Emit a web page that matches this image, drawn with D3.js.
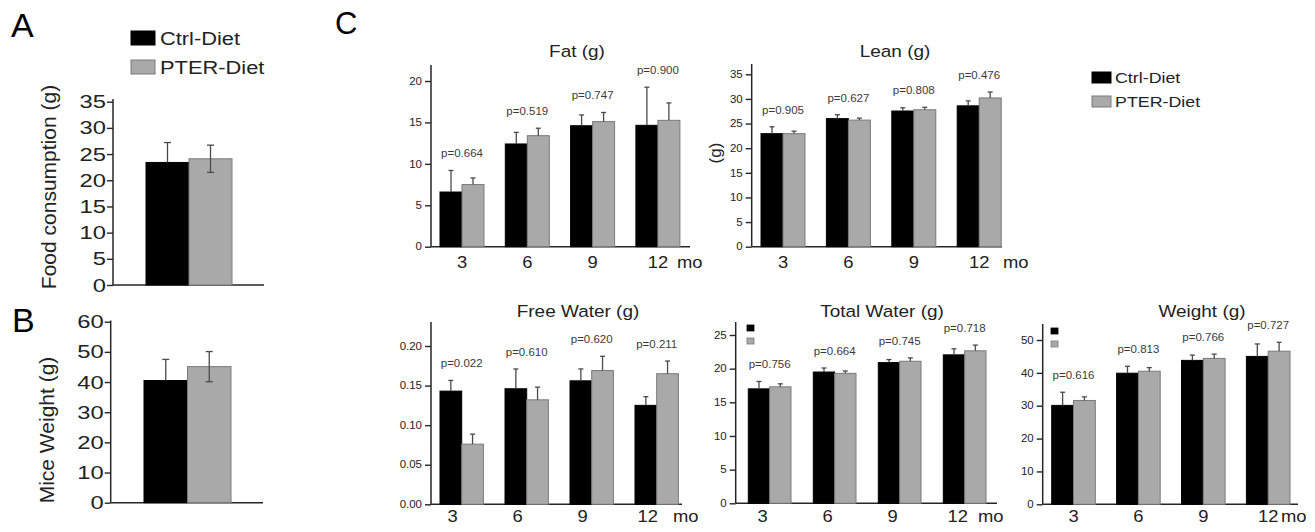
<!DOCTYPE html>
<html><head><meta charset="utf-8">
<script src="https://cdn.jsdelivr.net/npm/d3@7"></script>
<style>body{margin:0;background:#fff}svg{display:block;font-family:"Liberation Sans",Arial,sans-serif}</style>
</head><body><svg id="c" width="1315" height="532"></svg>
<script>
// ---------- DATA ----------
const months = ["3", "6", "9", "12"];
const groups = ["Ctrl-Diet", "PTER-Diet"];

const foodValues = [23.4, 24.1];
const foodErr = [3.8, 2.6];
const foodTicks = [0, 5, 10, 15, 20, 25, 30, 35];

const miceWeightValues = [40.5, 45.1];
const miceWeightErr = [7.0, 5.0];
const miceWeightTicks = [0, 10, 20, 30, 40, 50, 60];

const fatCtrl = [6.6, 12.4, 14.6, 14.65];
const fatCtrlErr = [2.6, 1.4, 1.3, 4.6];
const fatPter = [7.5, 13.4, 15.1, 15.25];
const fatPterErr = [0.8, 0.9, 1.1, 2.1];
const fatP = ["p=0.664", "p=0.519", "p=0.747", "p=0.900"];
const fatTicks = [0, 5, 10, 15, 20];

const leanCtrl = [22.95, 26.0, 27.55, 28.6];
const leanCtrlErr = [1.4, 0.8, 0.65, 1.0];
const leanPter = [22.95, 25.7, 27.8, 30.2];
const leanPterErr = [0.5, 0.4, 0.5, 1.2];
const leanP = ["p=0.905", "p=0.627", "p=0.808", "p=0.476"];
const leanTicks = [0, 5, 10, 15, 20, 25, 30, 35];

const freeCtrl = [0.143, 0.146, 0.156, 0.125];
const freeCtrlErr = [0.0135, 0.025, 0.015, 0.011];
const freePter = [0.076, 0.132, 0.169, 0.165];
const freePterErr = [0.0126, 0.016, 0.018, 0.016];
const freeP = ["p=0.022", "p=0.610", "p=0.620", "p=0.211"];
const freeTicks = [0, 0.05, 0.10, 0.15, 0.20];

const totalCtrl = [17.0, 19.5, 20.9, 22.05];
const totalCtrlErr = [1.1, 0.6, 0.45, 0.9];
const totalPter = [17.3, 19.3, 21.1, 22.65];
const totalPterErr = [0.45, 0.35, 0.5, 0.85];
const totalP = ["p=0.756", "p=0.664", "p=0.745", "p=0.718"];
const totalTicks = [0, 5, 10, 15, 20, 25];

const weightCtrl = [30.1, 39.9, 43.8, 45.0];
const weightCtrlErr = [4.0, 2.1, 1.6, 3.8];
const weightPter = [31.6, 40.5, 44.4, 46.6];
const weightPterErr = [1.1, 1.1, 1.3, 2.7];
const weightP = ["p=0.616", "p=0.813", "p=0.766", "p=0.727"];
const weightTicks = [0, 10, 20, 30, 40, 50];

// ---------- STYLE ----------
const FILL = {"Ctrl-Diet": "#000", "PTER-Diet": "#a9a9a9"};
const EDGE = {"Ctrl-Diet": "#000", "PTER-Diet": "#7a7a7a"};
const AX = "#262626", ERR = "#4a4a4a", TXT = "#222";
const SX = 1.15;

const svg = d3.select("#c");
svg.append("rect").attr("width", 1315).attr("height", 532).attr("fill", "#fff");

function txt(g, x, y, s, size, anchor, sx, fill) {
  return g.append("text")
    .attr("transform", `translate(${x},${y}) scale(${sx == null ? SX : sx},1)`)
    .attr("text-anchor", anchor || "start")
    .attr("font-size", size).attr("fill", fill || TXT).text(s);
}

// vertical error bar from the bar top yMid up to yHi; optional lower half to yLo
function errBar(g, x, yMid, yHi, cap, yLo) {
  g.append("line").attr("x1", x).attr("x2", x).attr("y1", yMid).attr("y2", yHi)
    .attr("stroke", ERR).attr("stroke-width", 1.3);
  g.append("line").attr("x1", x - cap / 2).attr("x2", x + cap / 2)
    .attr("y1", yHi).attr("y2", yHi).attr("stroke", ERR).attr("stroke-width", 1.3);
  if (yLo != null) {
    g.append("line").attr("x1", x).attr("x2", x).attr("y1", yMid).attr("y2", yLo)
      .attr("stroke", ERR).attr("stroke-width", 1.3);
    g.append("line").attr("x1", x - cap / 2).attr("x2", x + cap / 2)
      .attr("y1", yLo).attr("y2", yLo).attr("stroke", ERR).attr("stroke-width", 1.3);
  }
}

function yAxis(g, L, y, ticks, fmt, tickFont, tickSx, pad) {
  const ax = d3.axisLeft(y).tickValues(ticks).tickSize(L.tick).tickPadding(pad).tickFormat(fmt);
  const a = g.append("g").attr("transform", `translate(${L.x0},0)`).call(ax);
  a.select(".domain").remove();
  a.selectAll(".tick line").attr("stroke", AX).attr("stroke-width", 1.4);
  a.selectAll(".tick text").attr("font-size", tickFont).attr("fill", TXT)
    .attr("font-family", '"Liberation Sans",Arial,sans-serif')
    .attr("x", null)
    .attr("transform", `translate(${-(L.tick + pad)},0) scale(${tickSx},1)`);
  g.append("line").attr("x1", L.x0).attr("x2", L.x0).attr("y1", L.yTop).attr("y2", L.y0)
    .attr("stroke", AX).attr("stroke-width", 1.5);
  g.append("line").attr("x1", L.x0).attr("x2", L.xEnd).attr("y1", L.y0).attr("y2", L.y0)
    .attr("stroke", AX).attr("stroke-width", 1.5);
}

// ---------- PANEL C (grouped by month) ----------
function monthPanel(L, ctrl, ctrlErr, pter, pterErr, pvals, ticks, fmt) {
  const g = svg.append("g");
  const y = d3.scaleLinear().domain([0, ticks[ticks.length - 1]]).range([L.y0, L.yTick]);
  const x = d3.scaleBand().domain(months)
    .range([L.first, L.first + 3 * L.step + L.pair])
    .paddingInner((L.step - L.pair) / L.step).paddingOuter(0);
  const xs = d3.scaleBand().domain(groups).range([0, x.bandwidth()]);
  const series = {"Ctrl-Diet": [ctrl, ctrlErr], "PTER-Diet": [pter, pterErr]};

  yAxis(g, L, y, ticks, fmt, 10, SX, 3);

  months.forEach((m, i) => {
    groups.forEach(s => {
      const v = series[s][0][i], e = series[s][1][i];
      const bx = x(m) + xs(s);
      g.append("rect").attr("x", bx).attr("y", y(v)).attr("width", xs.bandwidth())
        .attr("height", y(0) - y(v)).attr("fill", FILL[s]).attr("stroke", EDGE[s]).attr("stroke-width", 1);
      errBar(g, bx + xs.bandwidth() / 2, y(v), y(v + e), 5);
    });
    const top = Math.max(ctrl[i] + ctrlErr[i], pter[i] + pterErr[i]);
    txt(g, x(m) + x.bandwidth() / 2, y(top) - 13, pvals[i], 10, "middle", SX, "#3a3a3a");
  });

  // x axis labels
  const xa = d3.axisBottom(x).tickSize(0).tickPadding(0);
  const a = g.append("g").attr("transform", `translate(${L.lblShift},${L.lblY})`).call(xa);
  a.select(".domain").remove();
  a.selectAll(".tick text").attr("font-size", 16).attr("fill", TXT).attr("dy", null).attr("y", null)
    .attr("font-family", '"Liberation Sans",Arial,sans-serif')
    .attr("transform", `scale(${SX},1)`);
  txt(g, L.moX, L.lblY, "mo", 16, "start");

  txt(g, L.titleX, L.titleY, L.title, 16.5, "middle");
  if (L.ylabel) {
    g.append("text").attr("transform", `translate(${L.ylabel[0]},${L.ylabel[1]}) rotate(-90)`)
      .attr("text-anchor", "middle").attr("font-size", 17).attr("fill", TXT).text("(g)");
  }
  if (L.mini) {
    groups.forEach((s, k) => g.append("rect").attr("x", L.mini[0]).attr("y", L.mini[1] + k * 13)
      .attr("width", 7).attr("height", 6).attr("fill", FILL[s]).attr("stroke", EDGE[s]).attr("stroke-width", 0.8));
  }
}

monthPanel({x0: 431, xEnd: 690, y0: 246.7, yTick: 81, yTop: 65, tick: 6,
  first: 440, step: 65.3, pair: 44, lblY: 268, lblShift: 0, moX: 677,
  title: "Fat (g)", titleX: 577, titleY: 57}, fatCtrl, fatCtrlErr, fatPter, fatPterErr, fatP, fatTicks, d3.format("d"));

monthPanel({x0: 751.7, xEnd: 1002, y0: 246.7, yTick: 74.3, yTop: 64, tick: 6,
  first: 761, step: 65.4, pair: 44, lblY: 268, lblShift: 0, moX: 1003,
  title: "Lean (g)", titleX: 895, titleY: 57, ylabel: [721, 153]},
  leanCtrl, leanCtrlErr, leanPter, leanPterErr, leanP, leanTicks, d3.format("d"));

monthPanel({x0: 431, xEnd: 682, y0: 504.3, yTick: 346, yTop: 322, tick: 6,
  first: 440, step: 65, pair: 43.4, lblY: 522, lblShift: -9, moX: 673,
  title: "Free Water (g)", titleX: 578, titleY: 317},
  freeCtrl, freeCtrlErr, freePter, freePterErr, freeP, freeTicks, d3.format(".2f"));

monthPanel({x0: 735.7, xEnd: 997, y0: 503.3, yTick: 335, yTop: 322, tick: 6,
  first: 748.3, step: 65, pair: 42.7, lblY: 522, lblShift: -7, moX: 978,
  title: "Total Water (g)", titleX: 882, titleY: 317, mini: [747, 325]},
  totalCtrl, totalCtrlErr, totalPter, totalPterErr, totalP, totalTicks, d3.format("d"));

monthPanel({x0: 1042.7, xEnd: 1298, y0: 504.3, yTick: 340, yTop: 324, tick: 6,
  first: 1051.7, step: 64.9, pair: 43.6, lblY: 522, lblShift: 0, moX: 1281,
  title: "Weight (g)", titleX: 1202, titleY: 317, mini: [1051, 328]},
  weightCtrl, weightCtrlErr, weightPter, weightPterErr, weightP, weightTicks, d3.format("d"));

// ---------- PANELS A, B ----------
function simplePanel(L, vals, errs, ticks, label) {
  const g = svg.append("g");
  const y = d3.scaleLinear().domain([0, ticks[ticks.length - 1]]).range([L.y0, L.yTick]);
  const x = d3.scaleBand().domain(groups).range([L.bx0, L.bx1]);
  yAxis(g, L, y, ticks, d3.format("d"), 19, 1.25, 1);
  groups.forEach((s, i) => {
    g.append("rect").attr("x", x(s)).attr("y", y(vals[i])).attr("width", x.bandwidth())
      .attr("height", y(0) - y(vals[i])).attr("fill", FILL[s]).attr("stroke", EDGE[s]).attr("stroke-width", 1);
    // lower half only visible on the light bar
    errBar(g, x(s) + x.bandwidth() / 2, y(vals[i]), y(vals[i] + errs[i]), 7,
      s === "PTER-Diet" ? y(vals[i] - errs[i]) : null);
  });
  g.append("text").attr("transform", `translate(${L.lab[0]},${L.lab[1]}) rotate(-90)`)
    .attr("text-anchor", "middle").attr("font-size", 21).attr("fill", TXT).text(label);
}

simplePanel({x0: 113, xEnd: 264, y0: 285, yTick: 101.7, yTop: 99, tick: 6, bx0: 146, bx1: 232, lab: [56, 187]},
  foodValues, foodErr, foodTicks, "Food consumption (g)");
simplePanel({x0: 110.7, xEnd: 263, y0: 502.7, yTick: 321.7, yTop: 320.5, tick: 6, bx0: 144, bx1: 231, lab: [54, 430]},
  miceWeightValues, miceWeightErr, miceWeightTicks, "Mice Weight (g)");

// legends
groups.forEach((s, k) => {
  svg.append("rect").attr("x", 131).attr("y", 31 + k * 29).attr("width", 24).attr("height", 14)
    .attr("fill", FILL[s]).attr("stroke", EDGE[s]).attr("stroke-width", 1);
  txt(svg, 160, 45 + k * 29, s, 19, "start");
  svg.append("rect").attr("x", 1092).attr("y", 72 + k * 24).attr("width", 19).attr("height", 11)
    .attr("fill", FILL[s]).attr("stroke", EDGE[s]).attr("stroke-width", 1);
  txt(svg, 1115, 83 + k * 24, s, 15.5, "start");
});

// panel letters
txt(svg, 11, 37, "A", 34, "start", 1, "#000");
txt(svg, 12, 332, "B", 34, "start", 1, "#000");
txt(svg, 335, 34, "C", 31, "start", 1, "#000");
</script></body></html>
